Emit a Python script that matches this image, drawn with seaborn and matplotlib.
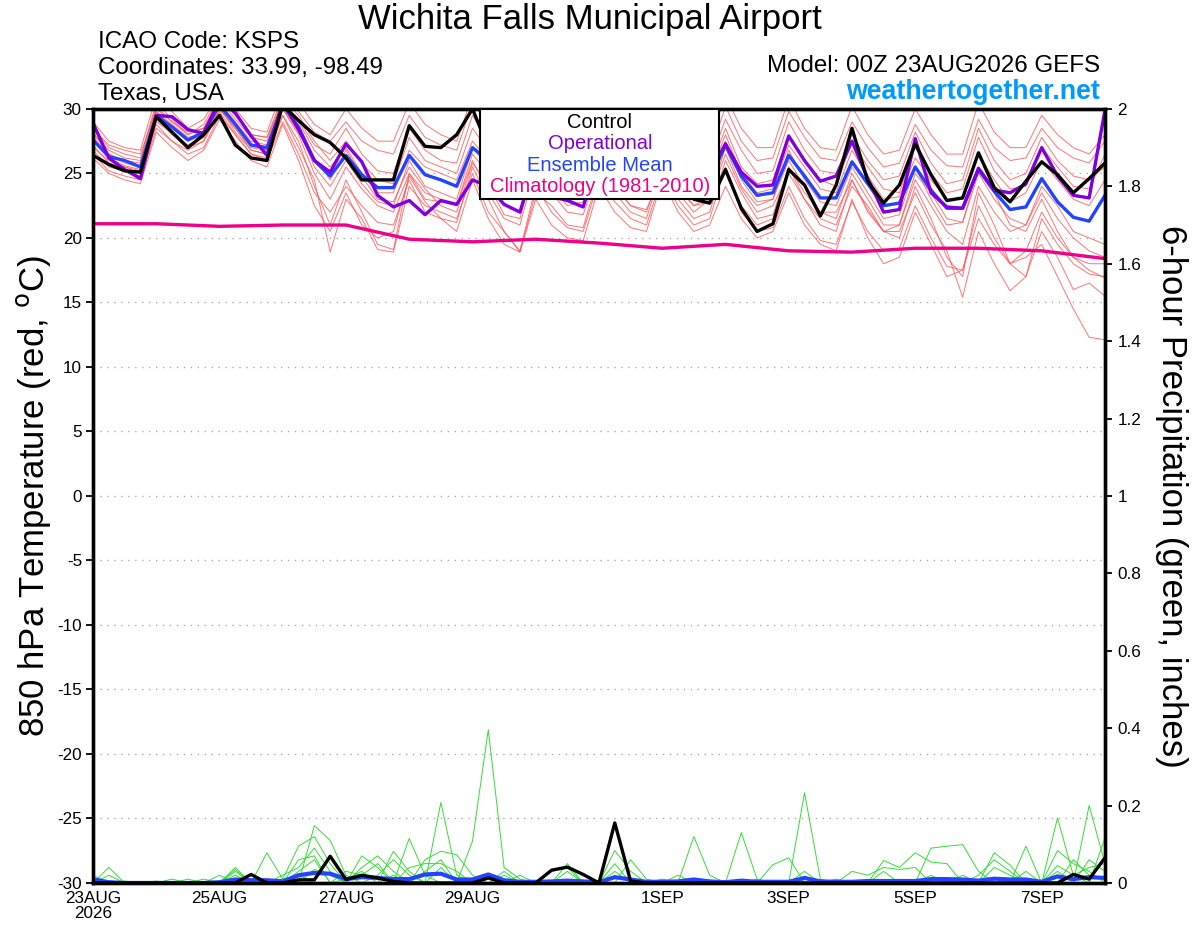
import numpy as np
import pandas as pd
import matplotlib
matplotlib.use('Agg')
import matplotlib.pyplot as plt
import seaborn as sns
from matplotlib.patches import Rectangle

# forecast hours (6-hourly, 0-384h from 00Z 23AUG2026)
hours = np.arange(0, 385, 6)
clim_hours = np.arange(0, 385, 24)

tick_hours = [0, 48, 96, 144, 216, 264, 312, 360]
tick_labels = ['23AUG\n2026', '25AUG', '27AUG', '29AUG', '1SEP', '3SEP', '5SEP', '7SEP']

# 850 hPa temperature (C)
control_t = [26.4, 25.7, 25.2, 25.1, 29.4, 28.2, 27.0, 28.0, 29.5, 27.2, 26.2, 26.0,
             30.3, 29.1, 28.0, 27.4, 26.2, 24.5, 24.5, 24.5, 28.7, 27.1, 27.0, 28.0,
             30.0, 27.0, 25.8, 25.5, 28.5, 27.0, 26.0, 25.5, 28.8, 27.5, 26.0, 25.5,
             28.0, 25.8, 23.0, 22.7, 25.3, 22.3, 20.5, 21.1, 25.3, 24.1, 21.7, 24.1,
             28.5, 24.4, 22.7, 24.1, 27.3, 24.9, 22.9, 23.1, 26.6, 23.9, 22.8, 24.4,
             25.9, 24.9, 23.5, 24.6, 25.8]
oper_t = [28.9, 26.2, 25.3, 24.6, 29.5, 29.4, 28.4, 28.1, 30.7, 29.7, 27.9, 26.4,
          30.5, 28.4, 26.0, 25.1, 27.3, 25.9, 23.3, 22.4, 22.9, 21.8, 22.9, 22.6,
          24.5, 24.0, 22.6, 22.0, 26.0, 23.2, 22.9, 22.4, 26.5, 25.0, 24.0, 23.5,
          26.5, 25.0, 24.0, 25.0, 27.3, 25.1, 24.0, 24.1, 27.9, 26.0, 24.4, 24.8,
          27.5, 24.6, 22.0, 22.2, 27.7, 23.5, 22.4, 22.3, 25.4, 23.7, 23.5, 24.2,
          27.0, 24.8, 23.3, 23.1, 29.9]
mean_t = [27.6, 26.3, 26.0, 25.5, 29.5, 28.6, 27.6, 28.2, 30.3, 28.8, 27.2, 27.0,
          30.3, 28.6, 26.0, 24.8, 26.4, 24.9, 23.9, 23.9, 26.4, 24.9, 24.5, 24.0,
          27.0, 26.0, 24.5, 24.0, 27.0, 25.5, 24.5, 24.0, 27.0, 25.5, 24.2, 23.8,
          26.5, 25.0, 23.8, 24.5, 27.2, 24.8, 23.3, 23.5, 26.4, 24.8, 23.1, 23.1,
          25.9, 24.2, 22.5, 22.7, 25.5, 23.7, 22.3, 22.3, 25.3, 23.6, 22.2, 22.4,
          24.6, 22.8, 21.6, 21.3, 23.3]
clim_t = [21.1, 21.1, 20.9, 21.0, 21.0, 19.9, 19.7, 19.9, 19.6, 19.2, 19.5, 19.0,
          18.9, 19.2, 19.2, 19.0, 18.4]

# ensemble members (temperature)
member_01 = [28.5, 27.0, 26.5, 26.2, 30.5, 29.2, 28.0, 28.8, 31.0, 29.5, 28.0, 27.8,
             31.0, 29.8, 28.2, 27.5, 29.0, 27.5, 26.8, 26.5, 29.5, 27.8, 27.2, 26.8,
             30.5, 28.8, 27.0, 26.5, 29.8, 28.0, 26.8, 26.2, 29.5, 28.0, 26.5, 26.0,
             29.0, 27.2, 26.0, 26.5, 30.2, 27.5, 26.0, 26.2, 29.8, 27.8, 26.2, 26.0,
             29.0, 27.0, 25.5, 25.8, 28.8, 26.8, 25.6, 25.5, 29.2, 27.0, 26.0, 26.2,
             28.5, 27.0, 26.2, 25.8, 27.5]
member_02 = [26.8, 25.5, 25.2, 24.8, 28.8, 27.5, 26.8, 27.5, 29.8, 28.0, 26.5, 26.0,
             29.0, 26.5, 23.5, 22.0, 24.0, 22.5, 21.2, 21.0, 24.5, 22.0, 21.5, 21.2,
             25.5, 23.0, 20.5, 19.0, 24.0, 22.0, 20.8, 20.5, 24.5, 22.8, 21.5, 21.0,
             24.8, 22.5, 21.0, 21.5, 25.5, 22.0, 20.5, 20.8, 24.0, 21.5, 19.8, 19.5,
             22.8, 20.5, 19.0, 19.2, 22.5, 20.0, 17.8, 17.5, 21.5, 19.5, 18.0, 18.5,
             19.5, 17.0, 14.5, 12.3, 12.1]
member_03 = [27.0, 26.0, 25.5, 25.0, 29.0, 28.2, 27.0, 27.5, 30.0, 28.5, 26.8, 26.5,
             29.5, 27.0, 24.5, 18.9, 23.0, 21.5, 19.1, 18.9, 24.0, 22.5, 22.0, 21.5,
             25.0, 22.0, 20.5, 18.9, 23.5, 22.5, 21.0, 20.8, 25.0, 23.5, 22.0, 21.5,
             25.5, 23.0, 21.5, 22.0, 26.0, 23.5, 21.5, 21.8, 25.5, 23.0, 21.0, 20.5,
             24.5, 22.0, 20.5, 20.0, 24.0, 21.5, 18.5, 17.0, 23.5, 21.0, 18.0, 19.0,
             22.0, 20.0, 18.5, 17.5, 16.9]
member_04 = [28.0, 26.8, 26.2, 26.0, 30.2, 29.0, 28.2, 28.5, 30.8, 29.2, 27.8, 27.5,
             30.8, 29.5, 27.5, 26.0, 27.5, 25.8, 24.5, 24.2, 27.8, 26.0, 25.5, 25.0,
             28.5, 26.8, 25.5, 25.0, 28.5, 26.5, 25.0, 24.8, 28.2, 26.5, 25.2, 24.8,
             28.0, 26.0, 24.5, 25.2, 28.5, 25.5, 24.2, 24.5, 28.0, 26.0, 24.5, 24.0,
             27.5, 25.5, 23.8, 23.5, 27.0, 25.0, 23.5, 23.8, 27.8, 25.2, 23.8, 24.0,
             27.0, 25.5, 24.0, 23.8, 26.5]
member_05 = [27.2, 25.8, 25.5, 25.2, 29.2, 28.0, 27.0, 27.8, 30.2, 28.2, 26.8, 26.5,
             30.0, 28.0, 25.0, 23.0, 25.5, 23.8, 22.5, 22.0, 25.0, 23.0, 22.8, 22.5,
             26.5, 25.0, 23.5, 23.0, 26.5, 24.5, 23.0, 22.5, 26.0, 24.0, 22.5, 22.0,
             25.5, 23.5, 22.0, 23.0, 26.5, 23.8, 22.0, 22.5, 25.0, 23.0, 21.5, 21.0,
             24.0, 22.5, 20.5, 20.5, 23.5, 21.0, 19.0, 15.4, 20.5, 18.0, 15.9, 17.0,
             21.5, 19.5, 18.0, 17.2, 17.0]
member_06 = [28.2, 26.5, 26.0, 25.8, 29.8, 28.8, 27.8, 28.0, 30.5, 29.0, 27.5, 27.2,
             30.5, 29.0, 26.8, 25.5, 27.0, 25.0, 23.5, 23.5, 26.8, 25.5, 25.0, 24.5,
             27.5, 26.0, 24.8, 24.5, 27.5, 25.8, 24.5, 24.2, 27.8, 26.2, 24.8, 24.2,
             27.0, 25.5, 24.0, 24.8, 28.0, 25.0, 23.5, 23.8, 27.2, 25.5, 23.8, 23.5,
             26.8, 24.8, 23.0, 23.2, 26.2, 24.5, 23.0, 23.0, 26.5, 24.5, 22.8, 23.5,
             26.0, 24.5, 23.0, 22.5, 24.5]
member_07 = [27.8, 26.5, 25.8, 25.5, 29.8, 28.5, 27.5, 28.0, 30.5, 28.8, 27.2, 26.8,
             30.2, 28.5, 25.5, 24.0, 26.0, 24.2, 22.8, 22.5, 26.0, 24.0, 23.5, 23.0,
             27.0, 25.5, 24.0, 23.5, 27.2, 25.0, 23.8, 23.5, 27.0, 25.2, 23.5, 23.0,
             26.0, 24.5, 23.0, 23.8, 27.5, 24.5, 22.8, 23.0, 26.8, 24.5, 22.8, 22.5,
             25.5, 23.5, 21.5, 21.8, 25.5, 23.0, 21.0, 21.2, 25.0, 23.0, 21.5, 21.0,
             23.5, 21.5, 20.0, 19.0, 18.5]
member_08 = [26.5, 25.2, 24.8, 24.5, 28.5, 27.5, 26.5, 27.0, 29.5, 28.0, 26.5, 26.2,
             29.5, 27.5, 24.0, 21.0, 24.5, 22.0, 19.5, 19.1, 25.0, 23.5, 23.0, 22.5,
             26.0, 23.5, 21.5, 21.0, 25.5, 23.5, 22.0, 21.8, 25.5, 24.0, 22.5, 22.2,
             25.0, 23.8, 22.5, 22.8, 25.0, 22.5, 21.0, 21.5, 25.5, 23.5, 22.0, 21.5,
             25.0, 23.0, 21.0, 21.0, 24.5, 22.5, 20.5, 19.5, 24.0, 22.0, 20.5, 21.0,
             24.0, 22.5, 20.5, 20.0, 19.5]
member_09 = [29.0, 27.5, 27.0, 26.8, 31.0, 29.8, 28.5, 29.2, 31.2, 30.0, 28.5, 28.2,
             31.5, 30.5, 28.8, 28.0, 30.0, 28.5, 27.5, 27.5, 30.5, 28.8, 28.0, 27.5,
             31.0, 29.5, 28.0, 27.5, 30.5, 29.0, 27.8, 27.0, 30.5, 28.8, 27.5, 27.0,
             30.2, 28.5, 27.0, 27.5, 31.0, 28.5, 27.0, 27.0, 30.8, 28.5, 27.0, 26.8,
             30.2, 28.0, 26.5, 26.8, 30.0, 28.0, 26.5, 26.5, 30.5, 28.2, 27.0, 27.0,
             29.5, 28.0, 27.0, 26.5, 28.0]
member_10 = [27.5, 26.2, 25.6, 25.3, 29.5, 28.2, 27.2, 27.8, 30.0, 28.5, 27.0, 26.8,
             30.0, 28.2, 26.2, 24.5, 26.8, 24.8, 23.0, 22.8, 25.5, 23.8, 22.5, 22.0,
             25.8, 24.2, 21.8, 21.5, 26.0, 24.0, 22.5, 22.8, 26.5, 24.8, 23.2, 23.0,
             26.2, 24.0, 22.5, 23.2, 27.0, 24.0, 22.5, 23.0, 26.0, 24.0, 22.0, 22.0,
             24.5, 22.2, 20.5, 21.0, 25.0, 23.5, 21.5, 21.2, 25.5, 23.5, 21.0, 20.5,
             23.0, 20.5, 18.5, 18.0, 18.0]
member_11 = [28.5, 27.2, 26.8, 26.5, 30.0, 29.0, 28.0, 28.5, 30.8, 29.5, 28.0, 27.8,
             30.5, 29.2, 27.2, 26.5, 28.5, 26.5, 25.2, 25.0, 28.5, 26.8, 26.0, 25.8,
             29.5, 27.5, 26.0, 25.5, 29.0, 27.2, 25.8, 25.5, 29.0, 27.0, 25.5, 25.2,
             28.5, 26.5, 25.2, 25.8, 29.2, 26.8, 25.0, 25.2, 29.0, 26.8, 25.2, 25.0,
             28.0, 26.0, 24.5, 24.8, 28.2, 25.8, 24.2, 24.5, 28.5, 26.0, 24.5, 25.0,
             27.8, 26.0, 24.8, 24.5, 25.5]
member_12 = [26.2, 25.0, 24.5, 24.2, 28.2, 27.0, 26.0, 26.8, 29.2, 27.5, 26.0, 25.5,
             28.8, 26.0, 22.5, 20.5, 23.5, 21.0, 20.0, 20.5, 24.8, 22.8, 21.5, 20.5,
             24.5, 21.5, 19.5, 18.9, 23.0, 21.0, 20.0, 19.8, 24.0, 22.0, 20.8, 20.5,
             24.5, 22.0, 20.5, 21.0, 24.0, 21.5, 20.0, 20.5, 23.5, 21.0, 19.5, 19.0,
             23.0, 20.0, 18.0, 18.5, 22.0, 19.5, 17.0, 17.5, 22.5, 20.0, 18.0, 17.0,
             20.5, 18.5, 16.0, 16.5, 15.5]

# 6-hour precipitation (inches)
control_p = [0, 0, 0, 0, 0, 0, 0, 0, 0, 0, .022, 0, 0, .008, .008, .069,
             .009, .02, .013, .004, 0, 0, 0, 0, 0, .013, 0, 0, 0, .033, .041, .022,
             0, .155, .005, 0, 0, 0, 0, 0, 0, 0, 0, 0, 0, 0, 0, 0,
             0, 0, 0, 0, 0, 0, 0, 0, 0, 0, 0, 0, 0, 0, .022, .01,
             .065]
mean_p = [.009, .002, 0, 0, 0, 0, 0, 0, .002, .009, .007, .007, .004, .02, .026, .024,
          .01, .015, .013, .01, .01, .022, .024, .009, .009, .022, .007, .003, .003, .004, .006, .004,
          .002, .015, .009, .003, .003, .004, .009, .004, .002, .006, .003, .003, .003, .013, .004, .003,
          .003, .005, .005, .005, .005, .01, .01, .009, .006, .011, .009, .009, .003, .017, .01, .015,
          .013]
precip_01 = [0, .04, 0, 0, 0, 0, 0, 0, 0, .04, 0, 0, 0, 0, .148, .11,
             .02, 0, 0, 0, 0, 0, .208, .02, 0, 0, 0, 0, 0, 0, 0, 0,
             0, .084, .03, 0, 0, 0, 0, 0, 0, 0, 0, 0, 0, .233, .01, 0,
             0, 0, 0, 0, 0, 0, 0, 0, 0, 0, 0, 0, 0, .168, .02, 0,
             0]
precip_02 = [0, 0, 0, 0, 0, 0, 0, 0, 0, .035, 0, .078, .01, .095, .12, .05,
             0, 0, 0, .082, .03, 0, 0, 0, .108, .396, .04, .01, 0, 0, 0, 0,
             0, 0, 0, 0, 0, 0, .12, .02, 0, 0, 0, 0, 0, 0, 0, 0,
             0, 0, 0, 0, 0, 0, 0, 0, 0, 0, 0, 0, 0, 0, 0, .2,
             .05]
precip_03 = [.02, 0, 0, 0, 0, .01, 0, 0, 0, .03, 0, 0, 0, .06, .07, 0,
             0, .07, .04, 0, .115, .02, 0, 0, 0, 0, 0, 0, 0, 0, .05, 0,
             0, .05, 0, 0, 0, 0, 0, 0, 0, .13, .01, 0, 0, 0, 0, 0,
             0, 0, 0, 0, 0, .09, .095, .099, .03, 0, 0, .095, 0, 0, 0, 0,
             .116]
precip_04 = [0, .02, 0, 0, 0, 0, .01, 0, 0, 0, 0, 0, .02, .04, .09, .03,
             0, .04, .07, .03, 0, .06, .082, .073, .02, 0, .03, 0, 0, 0, 0, 0,
             0, 0, .06, .01, 0, 0, 0, 0, 0, 0, 0, .047, .065, 0, 0, 0,
             0, 0, .058, .04, .078, .054, .05, 0, 0, .078, .046, 0, 0, .084, .05, .03,
             0]
precip_05 = [0, 0, 0, 0, 0, 0, 0, 0, .02, 0, .02, 0, 0, .03, .06, 0,
             .03, .02, .05, 0, .04, .05, .05, .03, 0, 0, 0, .02, 0, 0, .03, 0,
             0, 0, 0, 0, .01, 0, 0, 0, 0, 0, 0, 0, 0, 0, 0, 0,
             .03, .02, .04, .035, .04, 0, 0, 0, .02, .06, .03, 0, 0, .045, .02, .04,
             .05]
precip_06 = [0, 0, .005, 0, 0, 0, 0, 0, 0, .02, 0, 0, 0, 0, .035, .02,
             0, 0, .02, .06, .02, 0, .04, 0, 0, .01, 0, 0, 0, .03, .04, 0,
             0, .03, 0, 0, 0, .02, 0, 0, 0, 0, 0, 0, 0, .03, 0, 0,
             0, 0, 0, 0, 0, .02, 0, 0, 0, .04, .02, 0, 0, 0, .06, .02,
             .01]
precip_07 = [0, 0, 0, 0, .005, 0, 0, .01, 0, 0, 0, 0, .01, .02, 0, 0,
             .01, .03, 0, .02, 0, .03, .06, 0, .01, 0, .02, 0, 0, 0, 0, 0,
             0, 0, 0, .005, 0, 0, 0, 0, 0, 0, .01, 0, 0, 0, 0, .01,
             0, 0, .03, 0, 0, 0, 0, .02, 0, 0, 0, .03, 0, .03, 0, .06,
             .03]

members_t = [member_01, member_02, member_03, member_04, member_05, member_06,
             member_07, member_08, member_09, member_10, member_11, member_12]
members_p = [precip_01, precip_02, precip_03, precip_04, precip_05, precip_06, precip_07]

df_t = pd.DataFrame({'hour': np.tile(hours, len(members_t)),
                     'temp': np.concatenate(members_t),
                     'member': np.repeat(np.arange(len(members_t)), len(hours))})
df_p = pd.DataFrame({'hour': np.tile(hours, len(members_p)),
                     'precip': np.concatenate(members_p),
                     'member': np.repeat(np.arange(len(members_p)), len(hours))})
df_main = pd.DataFrame({'hour': hours, 'control_t': control_t, 'oper_t': oper_t,
                        'mean_t': mean_t, 'control_p': control_p, 'mean_p': mean_p})
df_clim = pd.DataFrame({'hour': clim_hours, 'clim_t': clim_t})

# colours
c_red = '#ff5252'
c_green = '#33dd33'
c_purple = '#8000dd'
c_blue = '#2244ff'
c_magenta = '#ee0088'

sns.set_style('white')
plt.rcParams['font.family'] = ['Liberation Sans', 'DejaVu Sans']
for key in ['text.color', 'axes.labelcolor', 'xtick.color', 'ytick.color', 'axes.edgecolor']:
    plt.rcParams[key] = 'black'

fig = plt.figure(figsize=(12, 9.27), dpi=100)
ax = fig.add_axes([0.0775, 0.0475, 0.8433, 0.835])

# temperature
sns.lineplot(data=df_t, x='hour', y='temp', units='member', estimator=None,
             color=c_red, lw=0.7, alpha=0.8, ax=ax, legend=False)
sns.lineplot(data=df_clim, x='hour', y='clim_t', color=c_magenta, lw=2.4, ax=ax)
sns.lineplot(data=df_main, x='hour', y='mean_t', color=c_blue, lw=2.4, ax=ax)
sns.lineplot(data=df_main, x='hour', y='oper_t', color=c_purple, lw=2.4, ax=ax)
sns.lineplot(data=df_main, x='hour', y='control_t', color='black', lw=2.4, ax=ax)

ax.set_xlim(0, 384)
ax.set_ylim(-30, 30)
ax.set_yticks(np.arange(-30, 31, 5))
ax.set_yticklabels([str(v) for v in range(-30, 31, 5)], fontsize=12.3)
ax.set_xticks(tick_hours)
ax.set_xticklabels(tick_labels, fontsize=12.3, linespacing=1.0)
ax.tick_params(axis='y', direction='out', length=5, width=1.3, pad=3)
ax.tick_params(axis='x', direction='out', length=5, width=1.3, pad=1)
for v in range(-25, 30, 5):
    ax.axhline(v, color='#aaaaaa', lw=1, ls=(0, (1, 4)), zorder=0)
ax.set_xlabel('')
ax.set_ylabel('850 hPa Temperature (red, $^{\\rm o}$C)', fontsize=25)
ax.yaxis.set_label_coords(-0.040, 0.5)
for s in ax.spines.values():
    s.set_linewidth(2.4)
    s.set_color('black')

# precipitation
ax2 = ax.twinx()
sns.lineplot(data=df_p, x='hour', y='precip', units='member', estimator=None,
             color=c_green, lw=0.7, ax=ax2, legend=False)
sns.lineplot(data=df_main, x='hour', y='mean_p', color=c_blue, lw=3, ax=ax2)
sns.lineplot(data=df_main, x='hour', y='control_p', color='black', lw=2.4, ax=ax2)
ax2.set_ylim(0, 2)
ax2.set_xlim(0, 384)
p_ticks = np.round(np.arange(0, 2.01, 0.2), 1)
ax2.set_yticks(p_ticks)
ax2.set_yticklabels(['%g' % v for v in p_ticks], fontsize=12.3)
ax2.tick_params(axis='y', direction='out', length=5, width=1.3, pad=4)
ax2.set_ylabel('6-hour Precipitation (green, inches)', fontsize=25, rotation=270, va='center')
ax2.yaxis.set_label_coords(1.066, 0.5)
for s in ax2.spines.values():
    s.set_linewidth(2.4)
    s.set_color('black')

# legend box
ax2.add_patch(Rectangle((0.3824, 0.8837), 0.2362, 0.1163, transform=ax2.transAxes,
                        facecolor='white', edgecolor='black', lw=1.5, zorder=10,
                        clip_on=False))
legend_items = [('Control', 'black'), ('Operational', c_purple),
                ('Ensemble Mean', c_blue), ('Climatology (1981-2010)', c_magenta)]
for k, (txt, col) in enumerate(legend_items):
    ax2.text(0.501, 0.9825 - k * 0.0276, txt, color=col, fontsize=14.5,
             ha='center', va='center', transform=ax2.transAxes, zorder=11)

# header texts
fig.text(0.4917, 0.9785, 'Wichita Falls Municipal Airport', fontsize=25,
         ha='center', va='center')
fig.text(0.0817, 0.9545, 'ICAO Code: KSPS', fontsize=17.4, va='center')
fig.text(0.0817, 0.9262, 'Coordinates: 33.99, -98.49', fontsize=17.4, va='center')
fig.text(0.0817, 0.8982, 'Texas, USA', fontsize=17.4, va='center')
fig.text(0.9167, 0.929, 'Model: 00Z 23AUG2026 GEFS', fontsize=17.4, ha='right', va='center')
fig.text(0.9167, 0.901, 'weathertogether.net', fontsize=19.3, fontweight='bold',
         color='#0099ff', ha='right', va='center')

fig.savefig('out.png', dpi=100)
